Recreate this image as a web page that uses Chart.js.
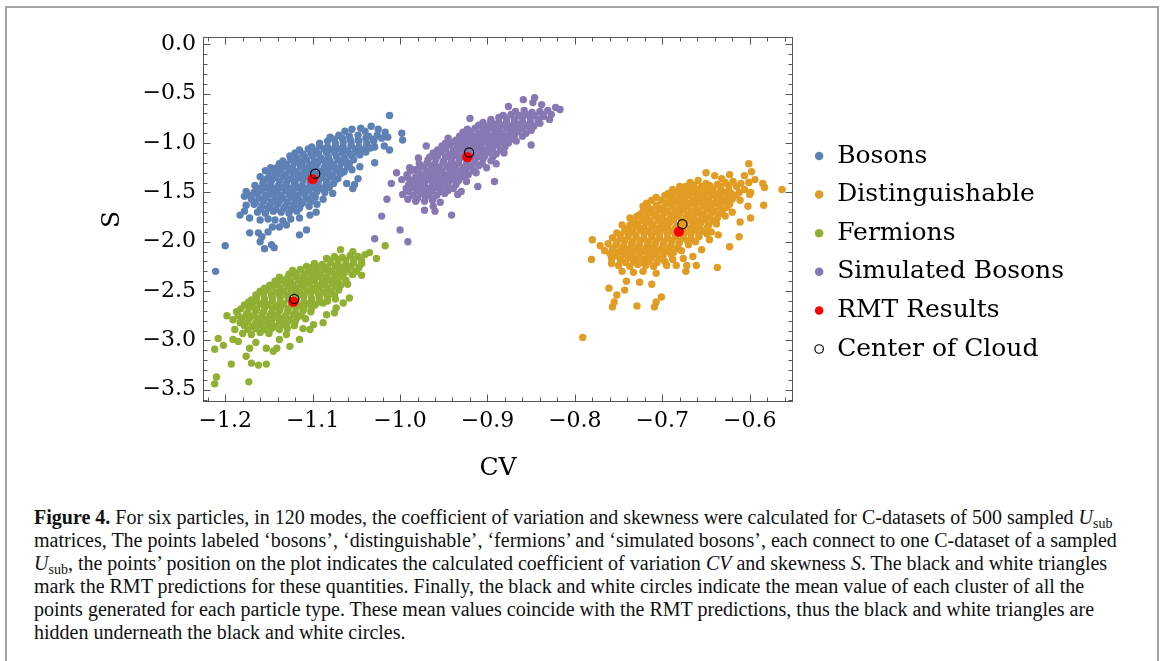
<!DOCTYPE html>
<html>
<head>
<meta charset="utf-8">
<title>CV vs S</title>
<script src="https://cdn.jsdelivr.net/npm/chart.js@4.4.1/dist/chart.umd.min.js"></script>
<style>
  html, body { margin: 0; padding: 0; background: #fff; }
  body { width: 1168px; height: 661px; position: relative; overflow: hidden; }
  #frame { position: absolute; left: 5px; top: 6px; width: 1154px; height: 720px; box-sizing: border-box; border: 2px solid #a3a3a3; }
  #plot { position: absolute; left: 0; top: 0; }
  #caption { position: absolute; left: 34px; top: 506px; font-family: 'Liberation Serif', serif; font-size: 20px; line-height: 23px; color: #111; white-space: nowrap; }
  #caption sub { font-size: 0.7em; line-height: 0; vertical-align: -0.3em; }
</style>
</head>
<body>
<div id="frame"></div>
<canvas id="plot" width="1168" height="476"></canvas>
<div id="caption">
  <div><b>Figure 4.</b> For six particles, in 120 modes, the coefficient of variation and skewness were calculated for C-datasets of 500 sampled <i>U</i><sub>sub</sub></div>
  <div>matrices, The points labeled ‘bosons’, ‘distinguishable’, ‘fermions’ and ‘simulated bosons’, each connect to one C-dataset of a sampled</div>
  <div><i>U</i><sub>sub</sub>, the points’ position on the plot indicates the calculated coefficient of variation <i>CV</i> and skewness <i>S</i>. The black and white triangles</div>
  <div>mark the RMT predictions for these quantities. Finally, the black and white circles indicate the mean value of each cluster of all the</div>
  <div>points generated for each particle type. These mean values coincide with the RMT predictions, thus the black and white triangles are</div>
  <div>hidden underneath the black and white circles.</div>
</div>
<script>
// axis ranges and tick labels
const cvRange = [-1.2254, -0.5504];
const sRange = [-3.624, 0.075];
const cvTicks = [-1.2, -1.1, -1.0, -0.9, -0.8, -0.7, -0.6];
const sTicks = [0, -0.5, -1.0, -1.5, -2.0, -2.5, -3.0, -3.5];

// bosons
const bosonsCV = [
  -1.012, -1.033, -1.045, -1.055, -1.025, -1.063, -1.017, -1.040,
  -1.070, -1.058, -1.048, -1.036, -1.026, -1.014, -0.998, -0.997, -1.080,
  -1.092, -1.083, -1.074, -1.065, -1.056, -1.047, -1.038, -1.030, -1.018, -1.012,
  -1.115, -1.105, -1.096, -1.087, -1.078, -1.069, -1.060, -1.051, -1.042, -1.034,
  -1.126, -1.118, -1.109, -1.100, -1.091, -1.082, -1.073, -1.064, -1.055, -1.046,
  -1.148, -1.138, -1.130, -1.121, -1.112, -1.103, -1.094, -1.085, -1.076, -1.067, -1.058, -1.046, -1.029,
  -1.154, -1.145, -1.136, -1.127, -1.118, -1.109, -1.100, -1.091, -1.082, -1.073, -1.064, -1.055,
  -1.160, -1.152, -1.143, -1.134, -1.125, -1.116, -1.107, -1.098, -1.089, -1.080, -1.071, -1.048,
  -1.166, -1.157, -1.148, -1.139, -1.130, -1.121, -1.112, -1.103, -1.094, -1.085, -1.076, -1.061, -1.052, -1.054,
  -1.176, -1.167, -1.158, -1.149, -1.140, -1.131, -1.122, -1.113, -1.104, -1.095, -1.086, -1.077,
  -1.178, -1.170, -1.161, -1.152, -1.143, -1.134, -1.125, -1.116, -1.107, -1.097, -1.088,
  -1.176, -1.167, -1.158, -1.149, -1.140, -1.131, -1.122, -1.113, -1.104, -1.095,
  -1.183, -1.178, -1.172, -1.163, -1.154, -1.145, -1.136, -1.127, -1.118, -1.103, -1.096,
  -1.160, -1.151, -1.143, -1.134, -1.125, -1.115,
  -1.172, -1.162, -1.158, -1.151, -1.146, -1.138, -1.130, -1.107, -1.115,
  -1.200, -1.155, -1.147, -1.144, -1.160, -1.211,
  // dense core
  -1.075, -1.066, -1.057, -1.048, -1.039, -1.030, -1.021,
  -1.101, -1.092, -1.083, -1.074, -1.065, -1.056, -1.047, -1.038, -1.029,
  -1.120, -1.111, -1.102, -1.093, -1.084, -1.075, -1.066, -1.057, -1.048, -1.039,
  -1.134, -1.125, -1.116, -1.107, -1.098, -1.089, -1.080, -1.071, -1.062, -1.053,
  -1.141, -1.132, -1.123, -1.114, -1.105, -1.096, -1.087, -1.078, -1.069, -1.060,
  -1.149, -1.140, -1.131, -1.122, -1.113, -1.104, -1.095, -1.086, -1.077, -1.068,
  -1.156, -1.147, -1.138, -1.129, -1.120, -1.111, -1.102, -1.093, -1.084, -1.075,
  -1.162, -1.153, -1.144, -1.135, -1.126, -1.117, -1.108, -1.099, -1.090, -1.081,
  -1.172, -1.163, -1.154, -1.145, -1.136, -1.127, -1.118, -1.109, -1.100,
  -1.165, -1.156, -1.147, -1.138, -1.129, -1.120, -1.111, -1.102,
  -1.160, -1.151, -1.142, -1.133, -1.124, -1.115
];
const bosonsS = [
  -0.72, -0.83, -0.85, -0.86, -0.86, -0.88, -0.89, -0.88,
  -0.92, -0.93, -0.92, -0.93, -0.92, -0.94, -0.90, -0.97, -0.94,
  -1.00, -0.98, -1.00, -0.99, -1.00, -0.98, -1.00, -0.98, -1.03, -1.07,
  -1.07, -1.06, -1.08, -1.06, -1.07, -1.06, -1.08, -1.06, -1.07, -1.05,
  -1.13, -1.15, -1.14, -1.13, -1.15, -1.14, -1.13, -1.15, -1.13, -1.12,
  -1.25, -1.21, -1.22, -1.20, -1.21, -1.22, -1.20, -1.21, -1.22, -1.20, -1.21, -1.24, -1.20,
  -1.28, -1.29, -1.27, -1.28, -1.29, -1.27, -1.28, -1.29, -1.27, -1.28, -1.29, -1.27,
  -1.34, -1.36, -1.35, -1.34, -1.36, -1.35, -1.34, -1.36, -1.35, -1.34, -1.36, -1.36,
  -1.43, -1.41, -1.42, -1.43, -1.41, -1.42, -1.43, -1.41, -1.42, -1.43, -1.41, -1.41, -1.42, -1.46,
  -1.49, -1.50, -1.48, -1.49, -1.50, -1.48, -1.49, -1.50, -1.48, -1.49, -1.50, -1.51,
  -1.54, -1.57, -1.56, -1.55, -1.57, -1.56, -1.55, -1.57, -1.56, -1.55, -1.57,
  -1.63, -1.62, -1.64, -1.63, -1.62, -1.64, -1.63, -1.62, -1.64, -1.62,
  -1.73, -1.69, -1.76, -1.70, -1.71, -1.69, -1.70, -1.71, -1.69, -1.73, -1.70,
  -1.78, -1.77, -1.78, -1.79, -1.77, -1.76,
  -1.91, -1.91, -1.95, -1.90, -1.85, -1.85, -1.83, -1.88, -1.93,
  -2.04, -2.07, -2.03, -2.06, -2.00, -2.30,
  // dense core
  -0.96, -0.95, -0.96, -0.97, -0.95, -0.96, -0.95,
  -1.04, -1.03, -1.04, -1.03, -1.04, -1.03, -1.04, -1.03, -1.04,
  -1.10, -1.11, -1.10, -1.11, -1.10, -1.09, -1.10, -1.11, -1.10, -1.09,
  -1.18, -1.17, -1.18, -1.17, -1.18, -1.17, -1.18, -1.17, -1.18, -1.17,
  -1.25, -1.24, -1.25, -1.24, -1.25, -1.24, -1.25, -1.24, -1.25, -1.24,
  -1.32, -1.31, -1.32, -1.31, -1.32, -1.31, -1.32, -1.31, -1.32, -1.31,
  -1.39, -1.38, -1.39, -1.38, -1.39, -1.38, -1.39, -1.38, -1.39, -1.38,
  -1.46, -1.45, -1.46, -1.45, -1.46, -1.45, -1.46, -1.45, -1.46, -1.45,
  -1.53, -1.52, -1.53, -1.52, -1.53, -1.52, -1.53, -1.52, -1.53,
  -1.60, -1.59, -1.60, -1.59, -1.60, -1.59, -1.60, -1.59,
  -1.67, -1.66, -1.67, -1.66, -1.67, -1.66
];

// distinguishable particles
const distCV = [
  -0.650, -0.632, -0.623, -0.640, -0.606, -0.598, -0.601, -0.594, -0.585, -0.583, -0.563,
  -0.680, -0.668, -0.659, -0.650, -0.637, -0.628, -0.619, -0.610, -0.615, -0.601,
  -0.688, -0.678, -0.669, -0.660, -0.651, -0.642, -0.633, -0.624, -0.606, -0.599,
  -0.707, -0.697, -0.688, -0.679, -0.670, -0.661, -0.652, -0.643, -0.634, -0.625, -0.616, -0.600,
  -0.718, -0.701, -0.706, -0.695, -0.686, -0.677, -0.668, -0.659, -0.650, -0.641, -0.632, -0.623, -0.611, -0.602, -0.584, -0.722,
  -0.729, -0.722, -0.712, -0.703, -0.694, -0.685, -0.676, -0.667, -0.658, -0.649, -0.640, -0.631, -0.620,
  -0.737, -0.718, -0.709, -0.700, -0.691, -0.682, -0.673, -0.664, -0.655, -0.646, -0.637, -0.628, -0.599, -0.611,
  -0.746, -0.737, -0.728, -0.719, -0.710, -0.701, -0.692, -0.683, -0.674, -0.665, -0.656, -0.647, -0.638,
  -0.752, -0.743, -0.734, -0.725, -0.716, -0.707, -0.698, -0.689, -0.680, -0.671, -0.662, -0.653, -0.644, -0.636,
  -0.757, -0.748, -0.739, -0.730, -0.721, -0.712, -0.703, -0.694, -0.685, -0.676, -0.667, -0.658, -0.646, -0.612, -0.780,
  -0.771, -0.762, -0.753, -0.744, -0.735, -0.726, -0.717, -0.708, -0.699, -0.690, -0.681, -0.670, -0.623,
  -0.766, -0.760, -0.750, -0.741, -0.732, -0.723, -0.714, -0.705, -0.696, -0.687, -0.678, -0.655,
  -0.781, -0.758, -0.748, -0.739, -0.730, -0.721, -0.712, -0.703, -0.688, -0.665, -0.676,
  -0.758, -0.750, -0.737, -0.728, -0.719, -0.710, -0.695, -0.684, -0.672, -0.661, -0.637,
  -0.746, -0.733, -0.722, -0.707, -0.673, -0.741, -0.726, -0.712, -0.761, -0.743,
  -0.752, -0.755, -0.757, -0.729, -0.701, -0.707, -0.709, -0.791,
  // dense core
  -0.673, -0.664, -0.655, -0.646, -0.633, -0.624,
  -0.693, -0.684, -0.675, -0.666, -0.657, -0.648, -0.639, -0.630, -0.621, -0.612,
  -0.712, -0.692, -0.683, -0.674, -0.665, -0.656, -0.647, -0.638, -0.629, -0.620,
  -0.716, -0.707, -0.698, -0.689, -0.680, -0.671, -0.662, -0.653, -0.644, -0.635, -0.626,
  -0.725, -0.716, -0.707, -0.698, -0.689, -0.680, -0.671, -0.662, -0.653, -0.644, -0.635,
  -0.732, -0.723, -0.714, -0.705, -0.696, -0.687, -0.678, -0.669, -0.660, -0.651, -0.642,
  -0.739, -0.730, -0.721, -0.712, -0.703, -0.694, -0.685, -0.676, -0.667, -0.658, -0.649,
  -0.748, -0.739, -0.730, -0.721, -0.712, -0.703, -0.694, -0.685, -0.676, -0.667, -0.658, -0.649,
  -0.752, -0.743, -0.734, -0.725, -0.716, -0.707, -0.698, -0.689, -0.680, -0.671, -0.662,
  -0.757, -0.746, -0.737, -0.728, -0.719, -0.710, -0.701, -0.692, -0.683,
  -0.753, -0.744, -0.735, -0.726, -0.717, -0.708, -0.699, -0.690,
  -0.742, -0.733, -0.724, -0.715, -0.706, -0.697
];
const distS = [
  -1.30, -1.36, -1.32, -1.33, -1.33, -1.29, -1.21, -1.37, -1.41, -1.45, -1.47,
  -1.44, -1.40, -1.38, -1.41, -1.42, -1.40, -1.39, -1.41, -1.44, -1.40,
  -1.47, -1.48, -1.46, -1.47, -1.48, -1.46, -1.47, -1.48, -1.47, -1.50,
  -1.55, -1.53, -1.54, -1.55, -1.53, -1.54, -1.55, -1.53, -1.54, -1.55, -1.53, -1.52,
  -1.61, -1.58, -1.63, -1.61, -1.60, -1.62, -1.61, -1.60, -1.62, -1.61, -1.60, -1.62, -1.58, -1.64, -1.63, -1.64,
  -1.74, -1.69, -1.68, -1.67, -1.69, -1.68, -1.67, -1.69, -1.68, -1.67, -1.69, -1.68, -1.70,
  -1.76, -1.76, -1.74, -1.75, -1.76, -1.74, -1.75, -1.76, -1.74, -1.75, -1.76, -1.74, -1.76, -1.80,
  -1.83, -1.83, -1.82, -1.81, -1.83, -1.82, -1.81, -1.84, -1.83, -1.82, -1.81, -1.83, -1.82,
  -1.91, -1.89, -1.90, -1.88, -1.89, -1.90, -1.88, -1.89, -1.91, -1.90, -1.88, -1.89, -1.90, -1.93,
  -1.96, -1.97, -1.95, -1.96, -1.97, -1.95, -1.96, -1.97, -1.95, -1.96, -1.97, -1.95, -1.98, -1.95, -1.98,
  -2.04, -2.02, -2.03, -2.04, -2.02, -2.03, -2.04, -2.02, -2.03, -2.04, -2.02, -2.03, -2.05,
  -2.09, -2.12, -2.10, -2.11, -2.09, -2.10, -2.11, -2.09, -2.10, -2.11, -2.09, -2.08,
  -2.18, -2.17, -2.18, -2.16, -2.17, -2.18, -2.16, -2.17, -2.18, -2.15, -2.17,
  -2.22, -2.24, -2.25, -2.23, -2.24, -2.25, -2.24, -2.24, -2.24, -2.24, -2.26,
  -2.30, -2.31, -2.30, -2.32, -2.30, -2.40, -2.41, -2.43, -2.47, -2.49,
  -2.54, -2.61, -2.66, -2.65, -2.56, -2.61, -2.66, -2.97,
  // dense core
  -1.44, -1.43, -1.44, -1.43, -1.44, -1.43,
  -1.51, -1.50, -1.51, -1.50, -1.51, -1.50, -1.51, -1.50, -1.51, -1.50,
  -1.58, -1.57, -1.58, -1.57, -1.58, -1.57, -1.58, -1.57, -1.58, -1.57,
  -1.65, -1.64, -1.65, -1.64, -1.65, -1.64, -1.65, -1.64, -1.65, -1.64, -1.65,
  -1.72, -1.71, -1.72, -1.71, -1.72, -1.71, -1.72, -1.71, -1.72, -1.71, -1.72,
  -1.79, -1.78, -1.79, -1.78, -1.79, -1.78, -1.79, -1.78, -1.79, -1.78, -1.79,
  -1.86, -1.85, -1.86, -1.85, -1.86, -1.85, -1.86, -1.85, -1.86, -1.85, -1.86,
  -1.93, -1.92, -1.93, -1.92, -1.93, -1.92, -1.93, -1.92, -1.93, -1.92, -1.93, -1.92,
  -2.00, -1.99, -2.00, -1.99, -2.00, -1.99, -2.00, -1.99, -2.00, -1.99, -2.00,
  -2.07, -2.06, -2.07, -2.06, -2.07, -2.06, -2.07, -2.06, -2.07,
  -2.14, -2.13, -2.14, -2.13, -2.14, -2.13, -2.14, -2.13,
  -2.21, -2.20, -2.21, -2.20, -2.21, -2.20
];

// fermions
const fermionsCV = [
  -1.017, -1.035, -1.027, -1.054, -1.068,
  -1.084, -1.075, -1.066, -1.057, -1.048, -1.040,
  -1.107, -1.098, -1.089, -1.080, -1.071, -1.062, -1.053, -1.044,
  -1.123, -1.114, -1.105, -1.096, -1.087, -1.078, -1.069, -1.060, -1.050,
  -1.138, -1.129, -1.120, -1.111, -1.102, -1.093, -1.084, -1.075, -1.066, -1.054, -1.044,
  -1.149, -1.140, -1.131, -1.122, -1.113, -1.104, -1.095, -1.086, -1.077, -1.068, -1.060,
  -1.160, -1.151, -1.142, -1.133, -1.124, -1.115, -1.106, -1.097, -1.088, -1.079, -1.070,
  -1.170, -1.164, -1.155, -1.146, -1.137, -1.128, -1.119, -1.110, -1.101, -1.092, -1.083, -1.074, -1.058,
  -1.178, -1.169, -1.160, -1.151, -1.142, -1.133, -1.124, -1.115, -1.106, -1.097, -1.088, -1.073, -1.065,
  -1.187, -1.174, -1.165, -1.156, -1.147, -1.138, -1.129, -1.120, -1.111, -1.102, -1.084, -1.075,
  -1.198, -1.191, -1.181, -1.172, -1.163, -1.154, -1.145, -1.136, -1.127, -1.118, -1.108, -1.088,
  -1.189, -1.178, -1.169, -1.160, -1.151, -1.142, -1.133, -1.121, -1.111, -1.103, -1.099,
  -1.180, -1.170, -1.160, -1.150, -1.138, -1.130, -1.115, -1.191, -1.208, -1.202, -1.212,
  -1.126, -1.141, -1.145, -1.153, -1.172, -1.176, -1.162, -1.170, -1.153, -1.193, -1.173, -1.210, -1.212, -1.165, -1.185,
  // dense core
  -1.080, -1.071, -1.062, -1.053, -1.044,
  -1.101, -1.092, -1.083, -1.074, -1.065, -1.056, -1.047,
  -1.127, -1.118, -1.109, -1.100, -1.091, -1.082, -1.073, -1.064, -1.055,
  -1.143, -1.134, -1.125, -1.116, -1.107, -1.098, -1.089, -1.080, -1.071, -1.062,
  -1.155, -1.146, -1.137, -1.128, -1.119, -1.110, -1.101, -1.092, -1.083, -1.074,
  -1.165, -1.156, -1.147, -1.138, -1.129, -1.120, -1.111, -1.102, -1.093, -1.084, -1.075,
  -1.173, -1.164, -1.155, -1.146, -1.137, -1.119, -1.110, -1.101, -1.092, -1.083,
  -1.182, -1.173, -1.164, -1.155, -1.146, -1.137, -1.128, -1.119, -1.110, -1.101,
  -1.185, -1.176, -1.167, -1.158, -1.149, -1.140, -1.131, -1.122, -1.113,
  -1.183, -1.174, -1.165, -1.156, -1.147, -1.138, -1.129, -1.120,
  -1.174, -1.165, -1.156, -1.147, -1.138, -1.129
];
const fermionsS = [
  -2.04, -2.11, -2.17, -2.10, -2.08,
  -2.17, -2.15, -2.16, -2.14, -2.15, -2.13,
  -2.25, -2.22, -2.23, -2.21, -2.22, -2.23, -2.21, -2.22,
  -2.29, -2.28, -2.30, -2.29, -2.28, -2.30, -2.29, -2.28, -2.30,
  -2.36, -2.37, -2.35, -2.36, -2.37, -2.35, -2.36, -2.37, -2.35, -2.33, -2.34,
  -2.44, -2.43, -2.42, -2.44, -2.43, -2.42, -2.44, -2.43, -2.42, -2.44, -2.43,
  -2.50, -2.49, -2.51, -2.50, -2.49, -2.51, -2.50, -2.49, -2.51, -2.50, -2.49,
  -2.59, -2.56, -2.58, -2.57, -2.56, -2.58, -2.57, -2.56, -2.58, -2.57, -2.56, -2.58, -2.57,
  -2.64, -2.65, -2.63, -2.64, -2.65, -2.63, -2.64, -2.65, -2.63, -2.64, -2.62, -2.67, -2.62,
  -2.71, -2.72, -2.70, -2.71, -2.72, -2.70, -2.71, -2.72, -2.70, -2.71, -2.74, -2.72,
  -2.75, -2.79, -2.78, -2.77, -2.78, -2.79, -2.77, -2.78, -2.79, -2.77, -2.78, -2.82,
  -2.89, -2.85, -2.86, -2.84, -2.85, -2.86, -2.84, -2.85, -2.88, -2.89, -2.84,
  -2.93, -2.94, -2.92, -2.93, -2.99, -2.94, -2.99, -2.99, -2.98, -3.05, -3.09,
  -3.06, -3.08, -3.11, -3.08, -3.08, -3.16, -3.25, -3.23, -3.24, -3.24, -3.42, -3.37, -3.44, -3.02, -3.01,
  // dense core
  -2.19, -2.18, -2.19, -2.18, -2.19,
  -2.26, -2.25, -2.26, -2.25, -2.26, -2.25, -2.26,
  -2.33, -2.32, -2.33, -2.32, -2.33, -2.32, -2.33, -2.32, -2.33,
  -2.40, -2.39, -2.40, -2.39, -2.40, -2.39, -2.40, -2.39, -2.40, -2.39,
  -2.47, -2.46, -2.47, -2.46, -2.47, -2.46, -2.47, -2.46, -2.47, -2.46,
  -2.54, -2.53, -2.54, -2.53, -2.54, -2.53, -2.54, -2.53, -2.54, -2.53, -2.54,
  -2.61, -2.60, -2.61, -2.60, -2.61, -2.60, -2.61, -2.60, -2.61, -2.60,
  -2.68, -2.67, -2.68, -2.67, -2.68, -2.67, -2.68, -2.67, -2.68, -2.67,
  -2.75, -2.74, -2.75, -2.74, -2.75, -2.74, -2.75, -2.74, -2.75,
  -2.82, -2.81, -2.82, -2.81, -2.82, -2.81, -2.82, -2.81,
  -2.89, -2.88, -2.89, -2.88, -2.89, -2.88
];

// simulated bosons
const simCV = [
  -0.859, -0.846, -0.838, -0.848, -0.876, -0.817, -0.822,
  -0.868, -0.858, -0.849, -0.840, -0.831, -0.827, -0.829,
  -0.896, -0.887, -0.878, -0.869, -0.860, -0.851, -0.842, -0.836, -0.920,
  -0.910, -0.901, -0.892, -0.883, -0.874, -0.865, -0.856, -0.847, -0.840,
  -0.928, -0.919, -0.910, -0.901, -0.892, -0.883, -0.874, -0.865, -0.856, -0.850,
  -0.945, -0.936, -0.927, -0.918, -0.909, -0.900, -0.891, -0.882, -0.873, -0.867, -0.850,
  -0.952, -0.943, -0.934, -0.925, -0.916, -0.907, -0.898, -0.889, -0.880, -0.970,
  -0.962, -0.953, -0.944, -0.935, -0.926, -0.917, -0.908, -0.899, -0.890, -0.881,
  -0.979, -0.968, -0.959, -0.950, -0.941, -0.932, -0.923, -0.914, -0.905, -0.896, -0.890,
  -0.989, -0.983, -0.973, -0.964, -0.955, -0.946, -0.937, -0.928, -0.919, -0.910, -0.901,
  -1.004, -0.992, -0.976, -0.967, -0.958, -0.949, -0.940, -0.931, -0.922, -0.913,
  -0.998, -0.987, -0.978, -0.969, -0.960, -0.951, -0.942, -0.933, -0.924, -0.911, -0.892,
  -1.010, -0.993, -0.984, -0.975, -0.966, -0.957, -0.948, -0.939,
  -0.997, -0.985, -0.976, -0.967, -0.958, -0.949, -0.934, -0.930,
  -0.991, -0.982, -0.972, -0.963, -0.954, -1.015,
  -0.972, -0.962, -0.960, -0.941, -1.021, -1.029, -1.000, -0.991,
  // dense core
  -0.882, -0.873, -0.864, -0.855, -0.846, -0.837,
  -0.905, -0.896, -0.887, -0.878, -0.869, -0.860, -0.851, -0.842,
  -0.923, -0.914, -0.905, -0.896, -0.887, -0.878, -0.869, -0.860, -0.851,
  -0.932, -0.923, -0.914, -0.905, -0.896, -0.887, -0.878, -0.869, -0.860,
  -0.948, -0.939, -0.930, -0.921, -0.912, -0.903, -0.894, -0.885, -0.876,
  -0.957, -0.948, -0.939, -0.930, -0.921, -0.912, -0.903, -0.894, -0.885,
  -0.966, -0.957, -0.948, -0.939, -0.930, -0.921, -0.912, -0.903, -0.894,
  -0.978, -0.969, -0.960, -0.951, -0.942, -0.933, -0.924, -0.915, -0.906,
  -0.988, -0.979, -0.970, -0.961, -0.952, -0.943, -0.934, -0.925, -0.916,
  -0.991, -0.982, -0.973, -0.964, -0.955, -0.946, -0.937, -0.928,
  -0.990, -0.981, -0.972, -0.963, -0.954, -0.945, -0.936,
  -0.990, -0.981, -0.972, -0.963, -0.954, -0.945,
  -0.980, -0.971, -0.962
];
const simS = [
  -0.56, -0.54, -0.61, -0.59, -0.63, -0.66, -0.64,
  -0.68, -0.67, -0.69, -0.68, -0.67, -0.71, -0.76,
  -0.76, -0.74, -0.75, -0.76, -0.74, -0.75, -0.76, -0.73, -0.75,
  -0.82, -0.83, -0.81, -0.82, -0.83, -0.81, -0.82, -0.83, -0.80,
  -0.89, -0.88, -0.90, -0.89, -0.88, -0.90, -0.89, -0.88, -0.90, -0.87,
  -0.95, -0.97, -0.96, -0.95, -0.97, -0.96, -0.95, -0.97, -0.96, -0.98, -1.02,
  -1.03, -1.02, -1.04, -1.03, -1.02, -1.04, -1.03, -1.02, -1.04, -1.03,
  -1.10, -1.09, -1.11, -1.10, -1.09, -1.11, -1.10, -1.09, -1.11, -1.10,
  -1.15, -1.17, -1.16, -1.18, -1.17, -1.16, -1.18, -1.17, -1.16, -1.18, -1.21,
  -1.25, -1.27, -1.24, -1.23, -1.25, -1.24, -1.23, -1.25, -1.24, -1.23, -1.25,
  -1.30, -1.32, -1.32, -1.30, -1.31, -1.32, -1.30, -1.31, -1.32, -1.30,
  -1.37, -1.38, -1.39, -1.37, -1.38, -1.39, -1.37, -1.38, -1.39, -1.44, -1.39,
  -1.41, -1.46, -1.45, -1.44, -1.46, -1.45, -1.44, -1.46,
  -1.52, -1.53, -1.51, -1.52, -1.53, -1.51, -1.52, -1.49,
  -1.57, -1.59, -1.59, -1.58, -1.60, -1.57,
  -1.68, -1.64, -1.69, -1.73, -1.74, -1.97, -1.88, -2.00,
  // dense core
  -0.72, -0.71, -0.72, -0.71, -0.72, -0.71,
  -0.79, -0.78, -0.79, -0.78, -0.79, -0.78, -0.79, -0.78,
  -0.86, -0.85, -0.86, -0.85, -0.86, -0.85, -0.86, -0.85, -0.86,
  -0.93, -0.92, -0.93, -0.92, -0.93, -0.92, -0.93, -0.92, -0.93,
  -1.00, -0.99, -1.00, -0.99, -1.00, -0.99, -1.00, -0.99, -1.00,
  -1.07, -1.06, -1.07, -1.06, -1.07, -1.06, -1.07, -1.06, -1.07,
  -1.14, -1.13, -1.14, -1.13, -1.14, -1.13, -1.14, -1.13, -1.14,
  -1.21, -1.20, -1.21, -1.20, -1.21, -1.20, -1.21, -1.20, -1.21,
  -1.28, -1.27, -1.28, -1.27, -1.28, -1.27, -1.28, -1.27, -1.28,
  -1.35, -1.34, -1.35, -1.34, -1.35, -1.34, -1.35, -1.34,
  -1.42, -1.41, -1.42, -1.41, -1.42, -1.41, -1.42,
  -1.49, -1.48, -1.49, -1.48, -1.49, -1.48,
  -1.56, -1.55, -1.56
];

// RMT predictions and cloud centres (bosons, simulated bosons, distinguishable, fermions)
const rmtCV = [-1.100, -0.923, -0.681, -1.122];
const rmtS = [-1.365, -1.142, -1.897, -2.607];
const centerCV = [-1.097, -0.921, -0.677, -1.121];
const centerS = [-1.311, -1.095, -1.822, -2.579];

const toPoints = (xs, ys) => xs.map((x, i) => ({ x: x, y: ys[i] }));
const fmt = v => v.toFixed(1).replace('-', '\u2212');

// inward ticks on all four sides plus the box around the plot
const frameTicks = {
  id: 'frameTicks',
  afterDatasetsDraw(chart) {
    const { ctx, chartArea: a, scales: { x, y } } = chart;
    const l = Math.round(a.left) + 0.5, r = Math.round(a.right) - 0.5;
    const t = Math.round(a.top) + 0.5, b = Math.round(a.bottom) - 0.5;
    ctx.save();
    ctx.strokeStyle = '#555';
    ctx.lineWidth = 1;
    ctx.strokeRect(l, t, r - l, b - t);
    ctx.beginPath();
    for (let i = -61; i <= -28; i++) {
      const px = Math.round(x.getPixelForValue(i / 50)) + 0.5;
      const len = i % 5 === 0 ? 7 : 4;
      ctx.moveTo(px, b); ctx.lineTo(px, b - len);
      ctx.moveTo(px, t); ctx.lineTo(px, t + len);
    }
    for (let j = 0; j >= -36; j--) {
      const py = Math.round(y.getPixelForValue(j / 10)) + 0.5;
      const len = j % 5 === 0 ? 7 : 4;
      ctx.moveTo(l, py); ctx.lineTo(l + len, py);
      ctx.moveTo(r, py); ctx.lineTo(r - len, py);
    }
    ctx.stroke();
    ctx.restore();
  }
};

Chart.defaults.font.family = "'DejaVu Serif', serif";
Chart.defaults.color = '#000';

new Chart(document.getElementById('plot'), {
  type: 'scatter',
  data: {
    datasets: [
      { label: 'Bosons', data: toPoints(bosonsCV, bosonsS), backgroundColor: '#5e81b5', borderWidth: 0, pointRadius: 3.7 },
      { label: 'Distinguishable', data: toPoints(distCV, distS), backgroundColor: '#e19c24', borderWidth: 0, pointRadius: 3.7 },
      { label: 'Fermions', data: toPoints(fermionsCV, fermionsS), backgroundColor: '#8fb032', borderWidth: 0, pointRadius: 3.7 },
      { label: 'Simulated Bosons', data: toPoints(simCV, simS), backgroundColor: '#8778b3', borderWidth: 0, pointRadius: 3.7 },
      { label: 'RMT Results', data: toPoints(rmtCV, rmtS), backgroundColor: '#ff0000', borderWidth: 0, pointRadius: 5.2, order: -1 },
      { label: 'Center of Cloud', data: toPoints(centerCV, centerS), backgroundColor: 'rgba(0,0,0,0)', borderColor: '#000', borderWidth: 1.2, pointRadius: 4.6, order: -2 }
    ]
  },
  options: {
    responsive: false,
    animation: false,
    devicePixelRatio: 1,
    events: [],
    layout: { padding: { left: 95, top: 37, right: 94, bottom: 8 } },
    scales: {
      x: {
        type: 'linear',
        min: cvRange[0],
        max: cvRange[1],
        afterBuildTicks: s => { s.ticks = cvTicks.map(v => ({ value: v })); },
        afterFit: s => { s.height = 66; },
        grid: { display: false, drawTicks: false },
        border: { display: false },
        ticks: { callback: fmt, font: { size: 22 }, color: '#000', padding: 6, maxRotation: 0, autoSkip: false },
        title: { display: true, text: 'CV', color: '#000', font: { size: 25, lineHeight: 1 }, padding: { top: 0, bottom: -13 } }
      },
      y: {
        type: 'linear',
        min: sRange[0],
        max: sRange[1],
        afterBuildTicks: s => { s.ticks = sTicks.map(v => ({ value: v })); },
        afterFit: s => { s.width = 108; },
        grid: { display: false, drawTicks: false },
        border: { display: false },
        ticks: { callback: fmt, font: { size: 22 }, color: '#000', padding: 7, autoSkip: false },
        title: { display: true, text: 'S', color: '#000', font: { size: 25, lineHeight: 1 }, padding: { top: 5, bottom: 0 } }
      },
      gap: {
        axis: 'y',
        type: 'linear',
        position: 'right',
        grid: { display: false, drawTicks: false },
        border: { display: false },
        ticks: { display: false },
        afterFit: s => { s.width = 7; }
      }
    },
    plugins: {
      tooltip: { enabled: false },
      legend: {
        position: 'right',
        align: 'center',
        maxWidth: 300,
        labels: {
          usePointStyle: true,
          boxWidth: 11,
          boxHeight: 6,
          padding: 13.6,
          color: '#000',
          font: { size: 25 },
          sort: (a, b) => a.datasetIndex - b.datasetIndex
        }
      }
    }
  },
  plugins: [frameTicks]
});
</script>
</body>
</html>
